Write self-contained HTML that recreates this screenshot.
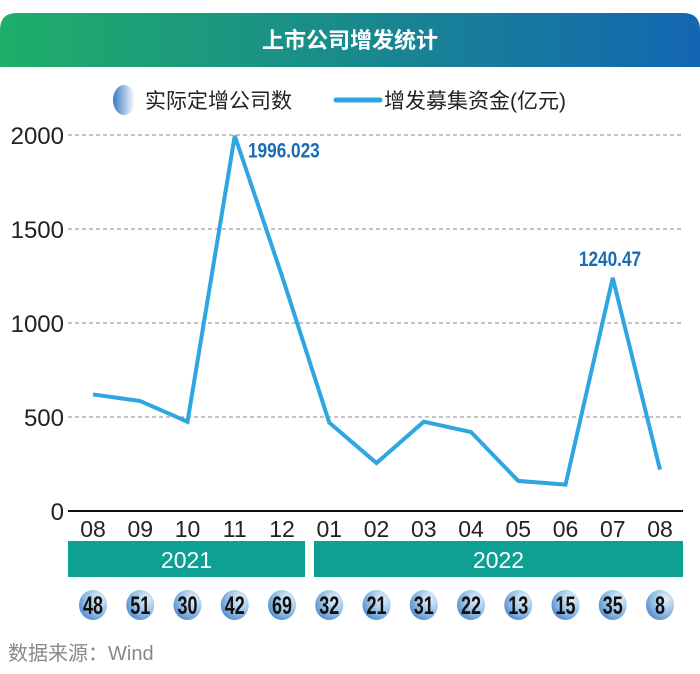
<!DOCTYPE html>
<html><head><meta charset="utf-8"><style>
body{margin:0;background:#fff;width:700px;height:669px;overflow:hidden;font-family:"Liberation Sans","Noto Sans CJK SC",sans-serif}
</style></head><body>
<svg width="700" height="669" xmlns="http://www.w3.org/2000/svg">
<defs>
<linearGradient id="tg" x1="0" x2="1" y1="0" y2="0"><stop offset="0" stop-color="#1fae68"/><stop offset="1" stop-color="#1366b2"/></linearGradient>
<radialGradient id="cg" cx="0.7" cy="0.3" r="0.9"><stop offset="0" stop-color="#e8f2fb"/><stop offset="0.55" stop-color="#8fbbe4"/><stop offset="1" stop-color="#3a7cc2"/></radialGradient>
<linearGradient id="lg" x1="0" x2="1"><stop offset="0" stop-color="#3a7cc2"/><stop offset="1" stop-color="#ffffff"/></linearGradient>
</defs>
<path d="M0,67 V30 Q0,13 17,13 H683 Q700,13 700,30 V67 Z" fill="url(#tg)"/>
<text x="350" y="48" text-anchor="middle" fill="#fff" font-size="22" font-weight="bold">上市公司增发统计</text>
<g>
<ellipse cx="124" cy="100" rx="11" ry="15" fill="url(#lg)"/>
<text x="145" y="108" font-size="21" fill="#222">实际定增公司数</text>
<line x1="336" y1="100" x2="380" y2="100" stroke="#2ea6e0" stroke-width="5" stroke-linecap="round"/>
<text x="384" y="108" font-size="21" fill="#222">增发募集资金(亿元)</text>
</g>
<g id="grid"></g><g id="plot"></g>
<text x="8" y="660" font-size="20" fill="#888">数据来源：Wind</text>
</svg>
<script>
const months=["08","09","10","11","12","01","02","03","04","05","06","07","08"];
const funds=[620,585,475,1996.023,1250,470,255,475,420,160,140,1240.47,220];
const counts=[48,51,30,42,69,32,21,31,22,13,15,35,8];
const yTicks=[0,500,1000,1500,2000];
const years=["2021","2022"];
const NS="http://www.w3.org/2000/svg";
const x=i=>93+i*47.25;
const y=v=>511-v*0.188;
const g=document.getElementById('grid'),p=document.getElementById('plot');
function mk(par,tag,a,t){const e=document.createElementNS(NS,tag);for(const k in a)e.setAttribute(k,a[k]);if(t!=null)e.textContent=t;par.appendChild(e);return e;}
yTicks.forEach(v=>{
 if(v>0){const l=mk(g,'line',{x1:68,x2:683,y1:y(v),y2:y(v),stroke:'#888','stroke-dasharray':'4,3','stroke-width':1});
 
 }
 const t=mk(g,'text',{x:64,y:y(v)+9,'text-anchor':'end','font-size':24,fill:'#222'},v);
 
 
});
const ax=mk(g,'line',{x1:68,x2:683,y1:511,y2:511,stroke:'#111','stroke-width':2});


months.forEach((m,i)=>{
 const t=mk(g,'text',{x:x(i),y:537,'text-anchor':'middle','font-size':23,fill:'#222'},m);
 
 
});
[[68,305],[314,683]].forEach((r,i)=>{
 const b=mk(g,'rect',{x:r[0],y:541,width:r[1]-r[0],height:36,fill:'#0fa094'});
 
 
 const t=mk(g,'text',{x:(r[0]+r[1])/2,y:568,'text-anchor':'middle','font-size':23,fill:'#fff'},years[i]);
 
 
});
const line=mk(p,'polyline',{points:funds.map((v,i)=>x(i)+','+y(v)).join(' '),fill:'none',stroke:'#2ea6e0','stroke-width':4,'stroke-linejoin':'miter'});


[[3,'1996.023',248],[11,'1240.47',610]].forEach(a=>{
 const ty=y(funds[a[0]])+(a[0]==3?22:-12);
 const t=mk(p,'text',{x:a[2],y:ty,'text-anchor':a[0]==3?'start':'middle','font-size':21,'font-weight':'bold',fill:'#1a6cb5',transform:`translate(${a[2]},0) scale(0.82,1) translate(${-a[2]},0)`},a[1]);
 
 
});
counts.forEach((c,i)=>{
 const e=mk(p,'ellipse',{cx:x(i),cy:605,rx:14,ry:15,fill:'url(#cg)'});
 
 
 const t=mk(p,'text',{x:x(i),y:614,'text-anchor':'middle','font-size':25,'font-weight':'bold',fill:'#111',transform:`translate(${x(i)},0) scale(0.72,1) translate(${-x(i)},0)`},c);
 
 
});
</script>
</body></html>
